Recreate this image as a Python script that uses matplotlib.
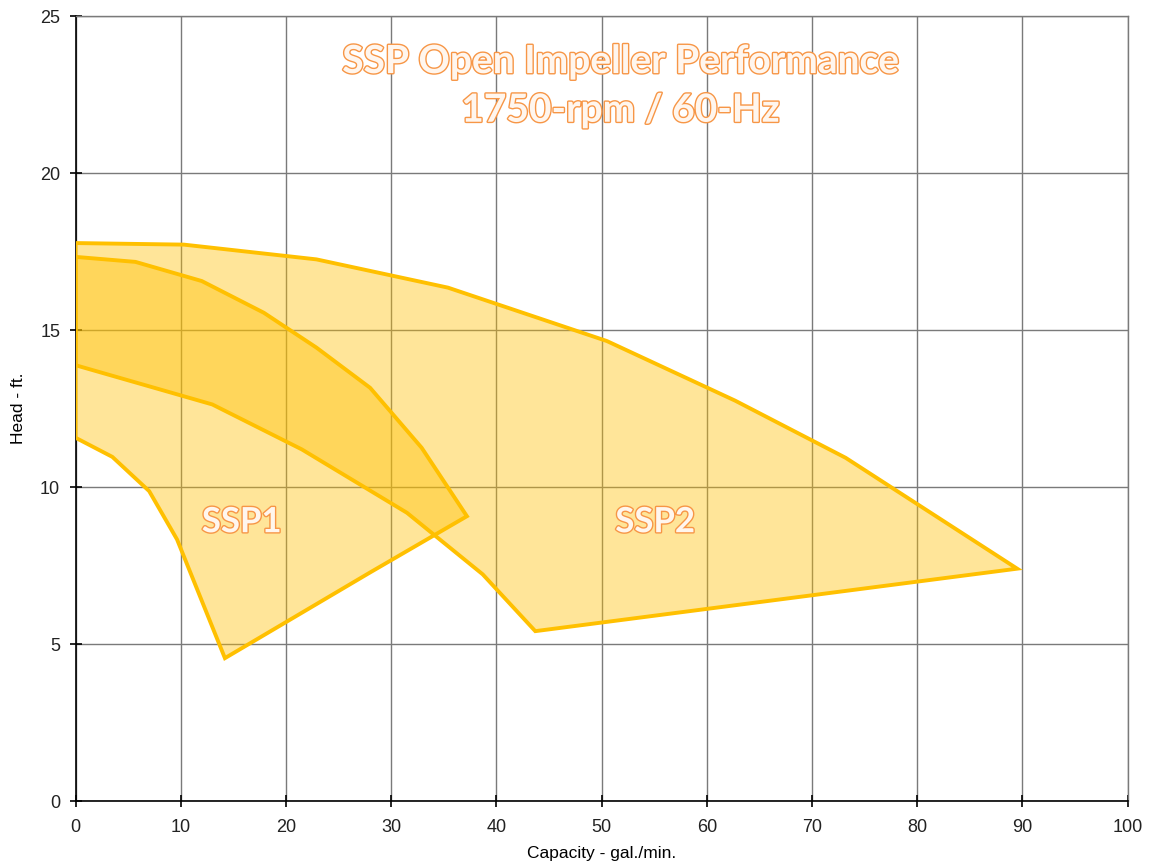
import numpy as np
from matplotlib import pyplot as plt
import matplotlib.patheffects as pe

# SSP2 envelope (capacity gpm, head ft), traced clockwise
ssp2_q = [0, 10.3, 22.9, 35.4, 50.5, 62.7, 73.2, 89.5, 43.7, 38.7, 31.5, 21.5, 13.0, 0]
ssp2_h = [17.77, 17.72, 17.25, 16.35, 14.65, 12.75, 10.93, 7.4, 5.41, 7.22, 9.18, 11.2, 12.63, 13.88]

# SSP1 envelope
ssp1_q = [0, 5.7, 12.0, 17.9, 22.9, 28.0, 32.9, 37.2, 28.0, 14.2, 9.65, 7.0, 3.5, 0]
ssp1_h = [17.33, 17.17, 16.56, 15.55, 14.44, 13.16, 11.25, 9.07, 7.28, 4.55, 8.33, 9.87, 10.96, 11.57]

x_ticks = np.arange(0, 101, 10)
y_ticks = np.arange(0, 26, 5)

fill_c = '#FFC000'
edge_c = '#FFC000'
txt_edge = '#F79646'
txt_fill = '#FFF6EE'

fig = plt.figure(figsize = (11.53, 8.67), dpi = 100)
ax = fig.add_axes([0.0655, 0.0761, 0.9125, 0.9054])

for q, h in [(ssp2_q, ssp2_h), (ssp1_q, ssp1_h)]:
    ax.fill(q, h, facecolor = fill_c, alpha = 0.4, edgecolor = 'none', zorder = 2)
    ax.fill(q, h, facecolor = 'none', edgecolor = edge_c, linewidth = 2.8, zorder = 3, joinstyle = 'miter')

ax.set_xlim(0, 100)
ax.set_ylim(0, 25)
ax.set_xticks(x_ticks)
ax.set_yticks(y_ticks)
ax.grid(True, color = '#7a7a7a', linewidth = 1.0, zorder = 0)
ax.set_axisbelow(True)
for s in ['top', 'right']:
    ax.spines[s].set_color('#7a7a7a')
    ax.spines[s].set_linewidth(1.0)
for s in ['left', 'bottom']:
    ax.spines[s].set_color('black')
    ax.spines[s].set_linewidth(1.2)
ax.tick_params(direction = 'inout', length = 8, width = 1.2, labelsize = 13, pad = 9, labelcolor = '#222222')
ax.tick_params(axis = 'y', pad = 7)
for lab in ax.get_xticklabels() + ax.get_yticklabels():
    lab.set_family('Liberation Sans')

ax.set_xlabel('Capacity - gal./min.', fontsize = 12.5, family = 'Liberation Sans', labelpad = 7)
ax.set_ylabel('Head - ft.', fontsize = 12.5, family = 'Liberation Sans', labelpad = 10)

effects = [pe.withStroke(linewidth = 2.0, foreground = txt_edge)]
ax.text(51.8, 23.55, 'SSP Open Impeller Performance', fontsize = 28, fontweight = 'bold', family = 'Lato',
        color = txt_fill, ha = 'center', va = 'center', path_effects = effects, zorder = 5)
ax.text(51.8, 22.0, '1750-rpm / 60-Hz', fontsize = 28, fontweight = 'bold', family = 'Lato',
        color = txt_fill, ha = 'center', va = 'center', path_effects = effects, zorder = 5)
ax.text(15.8, 8.88, 'SSP1', fontsize = 25, fontweight = 'bold', family = 'Lato',
        color = txt_fill, ha = 'center', va = 'center', path_effects = effects, zorder = 5)
ax.text(55.1, 8.88, 'SSP2', fontsize = 25, fontweight = 'bold', family = 'Lato',
        color = txt_fill, ha = 'center', va = 'center', path_effects = effects, zorder = 5)

plt.savefig('out.png', dpi = 100)
